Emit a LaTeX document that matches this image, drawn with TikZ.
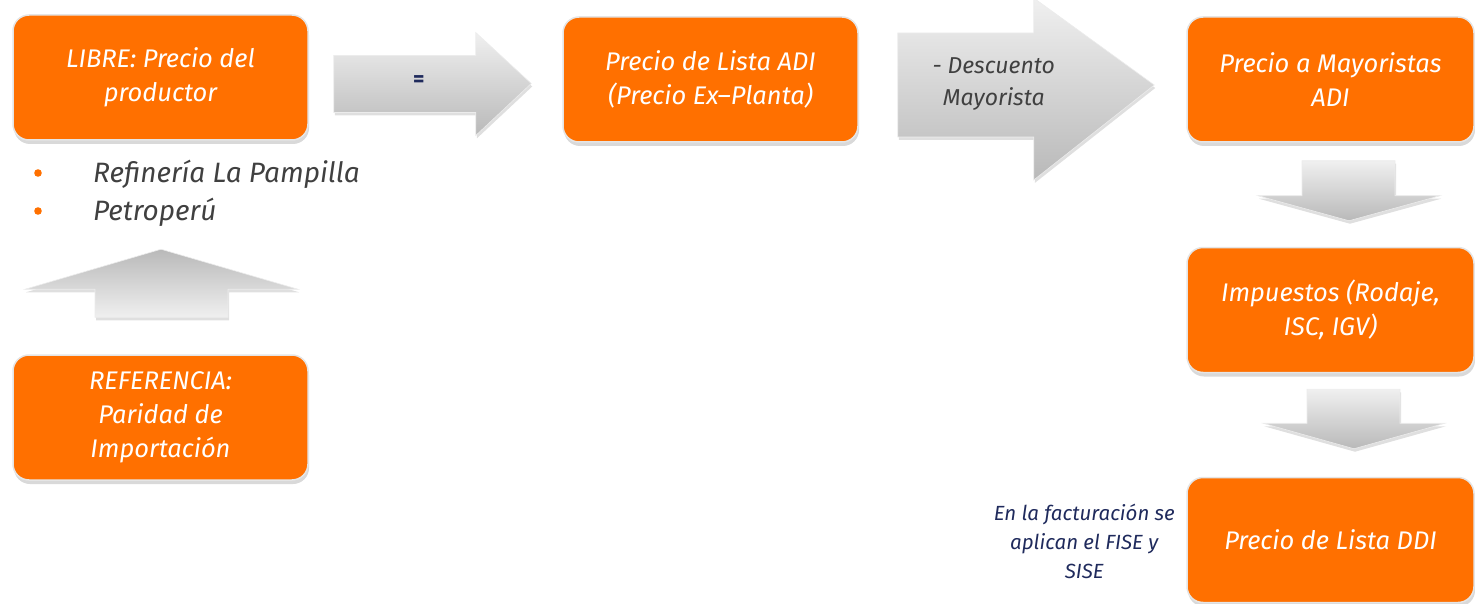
\documentclass[tikz,border=0pt]{standalone}
\usepackage{fontspec}
\setmainfont{Fira Sans}
\usepackage{xcolor}
\usetikzlibrary{calc,shadows}
\definecolor{naranja}{RGB}{255,112,0}
\definecolor{marino}{RGB}{31,42,92}
\definecolor{grisTexto}{RGB}{64,64,64}

\begin{document}
\begin{tikzpicture}[x=1pt,y=-1pt]
% Slide frame, 1 px = 1 pt.
\useasboundingbox (0,0) rectangle (1475,604);
\clip (0,0) rectangle (1475,604);

% This is the orange price box.
\tikzstyle{precio}=[draw=gray!20,line width=1.5pt,fill=naranja,rounded corners=16pt,
minimum width=295pt,minimum height=125pt,align=center,text=white,
font=\fontsize{25.5}{34}\selectfont\itshape,
drop shadow={opacity=0.3,shadow xshift=1pt,shadow yshift=-4pt}]

% This is the grey block arrow.
\tikzstyle{flecha}=[draw=gray!15,line width=0.6pt,top color=gray!12,bottom color=gray!55,
drop shadow={opacity=0.25,shadow xshift=1pt,shadow yshift=-3pt}]

% This draws the boxes.
\node[precio] (libre) at (160.5,77.5) {LIBRE: Precio del\\productor};
\node[precio] (lista) at (710.5,79.5) {Precio de Lista ADI\\(Precio Ex--Planta)};
\node[precio,minimum width=287pt] (mayor) at (1330.5,79.5) {Precio a Mayoristas\\ADI};
\node[precio,minimum width=287pt] (impuestos) at (1330.5,310) {Impuestos (Rodaje,\\ISC, IGV)};
\node[precio,minimum width=287pt] (ddi) at (1330.5,540) {Precio de Lista DDI};
\node[precio] (referencia) at (160.5,417.5) {REFERENCIA:\\Paridad de\\Importación};

% This draws the "=" arrow.
\draw[flecha] ($(libre.east)+(25,-22)$) -- ++(142,0) -- ++(0,-23)
  -- ($(lista.west)+(-31,4)$) -- ($(libre.east)+(167,58)$) -- ++(0,-23) -- ++(-142,0) -- cycle;
\node[text=marino,font=\fontsize{22}{22}\selectfont\bfseries] (igual) at ($(libre.east)+(110,4)$) {=};

% This draws the discount arrow.
\draw[flecha] ($(lista.east)+(39,-46.5)$) -- ++(136,0) -- ++(0,-35)
  -- ($(mayor.west)+(-32,5.5)$) -- ($(lista.east)+(175,100.5)$) -- ++(0,-43) -- ++(-136,0) -- cycle;
\node[text=grisTexto,align=center,font=\fontsize{23}{32}\selectfont\itshape] (descuento)
  at ($(lista.east)+(135,4.5)$) {- Descuento\\Mayorista};

% This draws the down arrows.
\draw[flecha] ($(mayor.south)+(-28.5,18)$) -- ++(0,35) -- ++(-44,0)
  -- ($(impuestos.north)+(18.5,-26)$) -- ($(mayor.south)+(109.5,53)$) -- ++(-45,0) -- ++(0,-35) -- cycle;
\draw[flecha] ($(impuestos.south)+(-23.5,16)$) -- ++(0,34) -- ++(-44,0)
  -- ($(ddi.north)+(23.5,-28)$) -- ($(impuestos.south)+(114.5,50)$) -- ++(-45,0) -- ++(0,-34) -- cycle;

% This draws the up arrow.
\draw[flecha,top color=gray!55,bottom color=gray!12] ($(referencia.north)+(-65.5,-37)$) -- ++(0,-28) -- ++(-70,0)
  -- ($(referencia.north)+(0.5,-105)$) -- ($(referencia.north)+(137.5,-65)$) -- ++(-70,0) -- ++(0,28) -- cycle;

% This draws the producers list.
\node[anchor=west,inner sep=0pt,text=grisTexto,font=\fontsize{28}{28}\selectfont\itshape] (pampilla) at (93,174) {Refinería La Pampilla};
\node[anchor=west,inner sep=0pt,text=grisTexto,font=\fontsize{28}{28}\selectfont\itshape] (petroperu) at (93,212) {Petroperú};
\fill[naranja] ($(pampilla.west)+(-55,-1)$) circle (3.8);
\fill[naranja] ($(petroperu.west)+(-55,-1)$) circle (3.8);

% This is the billing note.
\node[text=marino,align=center,font=\fontsize{20.5}{29}\selectfont\itshape] (nota)
  at ($(ddi.west)+(-102,1)$) {En la facturación se\\aplican el FISE y\\SISE};

\end{tikzpicture}
\end{document}
